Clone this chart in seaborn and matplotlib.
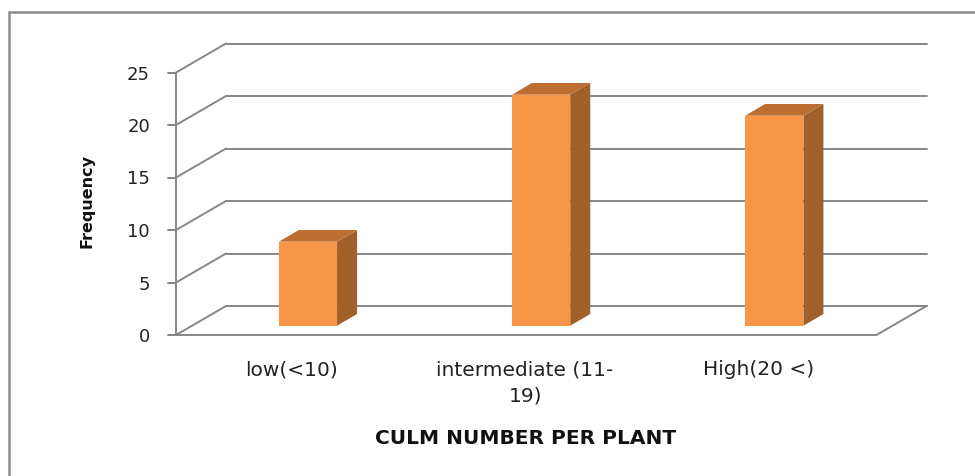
import matplotlib
matplotlib.use("Agg")
import matplotlib.pyplot as plt
import matplotlib.transforms as mtransforms
from matplotlib.patches import Polygon
from matplotlib.lines import Line2D
import seaborn as sns
import pandas as pd

# ---- data ----
categories = ["low(<10)", "intermediate (11-\n19)", "High(20 <)"]
frequency = [8, 22, 20]
y_ticks = [0, 5, 10, 15, 20, 25]
x_title = "CULM NUMBER PER PLANT"
y_title = "Frequency"

df = pd.DataFrame({"category": categories, "frequency": frequency})

sns.set_theme(style="white")
plt.rcParams["font.family"] = ["DejaVu Sans"]

W, H = 975, 476
DPI = 100
fig = plt.figure(figsize=(W / DPI, H / DPI), dpi=DPI)

# axes = plane of the bar front faces
x0_px, x1_px = 168.0, 914.2
ytop_px, ybot_px = 63.2, 325.7
ax = fig.add_axes([x0_px / W, 1 - ybot_px / H, (x1_px - x0_px) / W, (ybot_px - ytop_px) / H])

FRONT = "#F79646"
SIDE = "#A0602A"
TOP = "#BE6E30"
GRID = "#868686"

sns.barplot(data=df, x="category", y="frequency", color=FRONT, width=0.25,
            saturation=1, linewidth=0, ax=ax, zorder=3)

XMIN, XMAX = -0.6, 2.6
ax.set_xlim(XMIN, XMAX)
ax.set_ylim(0, 25)
for s in ax.spines.values():
    s.set_visible(False)
ax.set_facecolor("none")

ppx = (x1_px - x0_px) / (XMAX - XMIN)   # pixels per x unit
ppy = (ybot_px - ytop_px) / 25.0        # pixels per y unit


def off(x, y, dx, dy):
    return x + dx / ppx, y + dy / ppy


F = (-16.0, -9.3)   # front plane offset (px)
B = (34.0, 19.7)    # back wall offset (px)
D = (20.0, 11.7)    # bar depth (px)
xL, xR = -0.497, 2.507
glw = 1.4

# back wall gridlines and left wall diagonals
for v in y_ticks:
    a = off(xL, v, *B)
    b = off(xR, v, *B)
    ax.add_line(Line2D([a[0], b[0]], [a[1], b[1]], color=GRID, lw=glw, zorder=1, clip_on=False))
    c = off(xL, v, *F)
    ax.add_line(Line2D([c[0], a[0]], [c[1], a[1]], color=GRID, lw=glw, zorder=1, clip_on=False))
    # small tick mark on the front axis
    t = off(xL, v, F[0] - 8, F[1])
    ax.add_line(Line2D([t[0], c[0]], [t[1], c[1]], color=GRID, lw=glw, zorder=1, clip_on=False))

# front axis line
p = off(xL, 0, *F)
q = off(xL, 25, *F)
ax.add_line(Line2D([p[0], q[0]], [p[1], q[1]], color=GRID, lw=glw, zorder=1, clip_on=False))
# floor front edge and right edge
r = off(xR, 0, *F)
s2 = off(xR, 0, *B)
ax.add_line(Line2D([p[0], r[0], s2[0]], [p[1], r[1], s2[1]], color=GRID, lw=glw, zorder=1, clip_on=False))

# 3D side and top faces of the bars
for bar in list(ax.patches):
    bx, by = bar.get_x(), bar.get_y()
    bw, bh = bar.get_width(), bar.get_height()
    xr = bx + bw
    top = by + bh
    side = [(xr, by), (xr, top), off(xr, top, *D), off(xr, by, *D)]
    ax.add_patch(Polygon(side, closed=True, facecolor=SIDE, edgecolor="none", zorder=2.9, clip_on=False))
    topf = [(bx, top), (xr, top), off(xr, top, *D), off(bx, top, *D)]
    ax.add_patch(Polygon(topf, closed=True, facecolor=TOP, edgecolor="none", zorder=2.9, clip_on=False))
    bar.set_clip_on(False)

# ticks / tick labels
ax.set_yticks(y_ticks)
ax.set_yticklabels([str(v) for v in y_ticks])
ax.tick_params(axis="y", length=0, pad=13, labelsize=13, labelcolor="#222222")
shift_y = mtransforms.ScaledTranslation(0, F[1] / DPI, fig.dpi_scale_trans)
for lab in ax.get_yticklabels():
    lab.set_transform(lab.get_transform() + shift_y)

ax.set_xticks(range(len(categories)))
ax.set_xticklabels(categories)
ax.tick_params(axis="x", length=0, pad=18, labelsize=14.5, labelcolor="#222222")
shift_x = mtransforms.ScaledTranslation(F[0] / DPI, F[1] / DPI, fig.dpi_scale_trans)
for lab in ax.get_xticklabels():
    lab.set_transform(lab.get_transform() + shift_x)
    lab.set_linespacing(1.5)

ax.set_xlabel(x_title, fontsize=14.5, fontweight="bold", color="#111111")
ax.xaxis.set_label_coords((525.5 - x0_px) / (x1_px - x0_px), (ybot_px - 438) / (ybot_px - ytop_px))
ax.xaxis.label.set_va("center")
ax.set_ylabel(y_title, fontsize=11.5, fontweight="bold", color="#111111")
ax.yaxis.set_label_coords((87 - x0_px) / (x1_px - x0_px), (ybot_px - 201) / (ybot_px - ytop_px))
ax.yaxis.label.set_va("center")
ax.yaxis.label.set_ha("center")

# outer frame (left and top edges only)
fig.add_artist(Line2D([9 / W, 9 / W], [0, 1 - 12 / H], transform=fig.transFigure, color="#8c8c8c", lw=1.8))
fig.add_artist(Line2D([9 / W, 1], [1 - 12 / H, 1 - 12 / H], transform=fig.transFigure, color="#8c8c8c", lw=1.8))

fig.savefig("out.png", dpi=DPI)
